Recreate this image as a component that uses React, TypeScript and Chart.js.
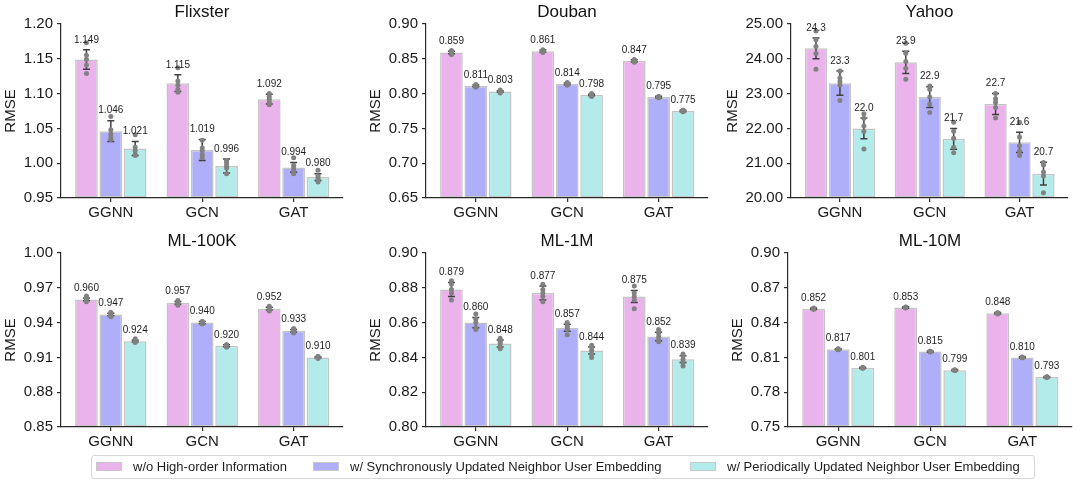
import React, { useEffect, useRef } from "react";
import { Chart, registerables } from "chart.js";
Chart.register(...registerables);

const FONT = "'Liberation Sans', Arial, Helvetica, sans-serif";

const models = ["GGNN", "GCN", "GAT"];
const seriesNames = [
  "w/o High-order Information",
  "w/ Synchronously Updated Neighbor User Embedding",
  "w/ Periodically Updated Neighbor User Embedding",
];
const seriesColors = ["#ebb3eb", "#aeaff8", "#b3ebea"];

// ---- Flixster ----
const flixsterMeans = [
  [1.149, 1.115, 1.092],
  [1.046, 1.019, 0.994],
  [1.021, 0.996, 0.98],
];
const flixsterErr = [
  [0.014, 0.012, 0.007],
  [0.015, 0.015, 0.007],
  [0.01, 0.01, 0.005],
];
const flixsterRuns = [
  [[1.173, 1.155, 1.149, 1.141, 1.129], [1.137, 1.118, 1.112, 1.106, 1.102], [1.1, 1.096, 1.092, 1.088, 1.084]],
  [[1.067, 1.048, 1.042, 1.037, 1.034], [1.033, 1.022, 1.018, 1.012, 1.008], [1.008, 0.997, 0.993, 0.989, 0.985]],
  [[1.041, 1.023, 1.018, 1.013, 1.011], [1.004, 1.001, 0.997, 0.993, 0.985], [0.99, 0.982, 0.979, 0.976, 0.973]],
];
const flixsterTicks = [0.95, 1.0, 1.05, 1.1, 1.15, 1.2];

// ---- Douban ----
const doubanMeans = [
  [0.859, 0.861, 0.847],
  [0.811, 0.814, 0.795],
  [0.803, 0.798, 0.775],
];
const doubanErr = [
  [0.0018, 0.0015, 0.0015],
  [0.0012, 0.0012, 0.0012],
  [0.0012, 0.0012, 0.0012],
];
const doubanRuns = [
  [[0.862, 0.861, 0.859, 0.857, 0.856], [0.863, 0.862, 0.861, 0.86, 0.859], [0.849, 0.848, 0.847, 0.846, 0.845]],
  [[0.813, 0.812, 0.811, 0.81, 0.809], [0.816, 0.815, 0.814, 0.813, 0.812], [0.796, 0.796, 0.795, 0.794, 0.794]],
  [[0.805, 0.804, 0.803, 0.802, 0.801], [0.8, 0.799, 0.798, 0.797, 0.796], [0.776, 0.776, 0.775, 0.774, 0.774]],
];
const doubanTicks = [0.65, 0.7, 0.75, 0.8, 0.85, 0.9];

// ---- Yahoo ----
const yahooMeans = [
  [24.3, 23.9, 22.7],
  [23.3, 22.9, 21.6],
  [22.0, 21.7, 20.7],
];
const yahooErr = [
  [0.3, 0.32, 0.3],
  [0.35, 0.3, 0.29],
  [0.3, 0.3, 0.33],
];
const yahooRuns = [
  [[24.8, 24.55, 24.35, 24.15, 23.7], [24.45, 24.16, 23.92, 23.73, 23.41], [23.0, 22.85, 22.75, 22.6, 22.3]],
  [[23.65, 23.45, 23.35, 23.25, 22.8], [23.22, 23.12, 22.9, 22.7, 22.46], [22.18, 21.75, 21.5, 21.35, 21.22]],
  [[22.42, 22.29, 22.07, 21.91, 21.41], [22.18, 21.92, 21.72, 21.46, 21.3], [21.02, 20.95, 20.75, 20.63, 20.15]],
];
const yahooTicks = [20, 21, 22, 23, 24, 25];

// ---- ML-100K ----
const ml100kMeans = [
  [0.96, 0.957, 0.952],
  [0.947, 0.94, 0.933],
  [0.924, 0.92, 0.91],
];
const ml100kErr = [
  [0.0012, 0.0012, 0.0012],
  [0.001, 0.001, 0.001],
  [0.0008, 0.0008, 0.0006],
];
const ml100kRuns = [
  [[0.963, 0.961, 0.96, 0.959, 0.958], [0.959, 0.958, 0.957, 0.956, 0.955], [0.954, 0.953, 0.952, 0.951, 0.95]],
  [[0.949, 0.948, 0.947, 0.946, 0.945], [0.941, 0.941, 0.94, 0.939, 0.939], [0.935, 0.934, 0.933, 0.932, 0.931]],
  [[0.926, 0.925, 0.924, 0.923, 0.923], [0.921, 0.921, 0.92, 0.919, 0.919], [0.911, 0.91, 0.91, 0.91, 0.909]],
];
const ml100kTicks = [0.85, 0.88, 0.91, 0.94, 0.97, 1.0];

// ---- ML-1M ----
const ml1mMeans = [
  [0.879, 0.877, 0.875],
  [0.86, 0.857, 0.852],
  [0.848, 0.844, 0.839],
];
const ml1mErr = [
  [0.004, 0.004, 0.0035],
  [0.003, 0.002, 0.0025],
  [0.002, 0.002, 0.002],
];
const ml1mRuns = [
  [[0.884, 0.882, 0.879, 0.877, 0.873], [0.882, 0.879, 0.877, 0.875, 0.872], [0.881, 0.877, 0.875, 0.873, 0.868]],
  [[0.865, 0.862, 0.86, 0.857, 0.856], [0.86, 0.858, 0.857, 0.856, 0.853], [0.856, 0.854, 0.852, 0.85, 0.849]],
  [[0.851, 0.849, 0.848, 0.846, 0.845], [0.847, 0.846, 0.844, 0.842, 0.84], [0.842, 0.841, 0.839, 0.837, 0.835]],
];
const ml1mTicks = [0.8, 0.82, 0.84, 0.86, 0.88, 0.9];

// ---- ML-10M ----
const ml10mMeans = [
  [0.852, 0.853, 0.848],
  [0.817, 0.815, 0.81],
  [0.801, 0.799, 0.793],
];
const ml10mErr = [
  [0.0006, 0.0006, 0.0006],
  [0.0005, 0.0005, 0.0005],
  [0.0005, 0.0005, 0.0005],
];
const ml10mRuns = [
  [[0.8525, 0.8522, 0.852, 0.8518, 0.8515], [0.8535, 0.8532, 0.853, 0.8528, 0.8525], [0.8485, 0.8482, 0.848, 0.8478, 0.8475]],
  [[0.8174, 0.8172, 0.817, 0.8168, 0.8166], [0.8154, 0.8152, 0.815, 0.8148, 0.8146], [0.8104, 0.8102, 0.81, 0.8098, 0.8096]],
  [[0.8014, 0.8012, 0.801, 0.8008, 0.8006], [0.7994, 0.7992, 0.799, 0.7988, 0.7986], [0.7934, 0.7932, 0.793, 0.7928, 0.7926]],
];
const ml10mTicks = [0.75, 0.78, 0.81, 0.84, 0.87, 0.9];

type PanelCfg = {
  title: string;
  means: number[][];
  errs: number[][];
  runs: number[][][];
  ticks: number[];
  decimals: number;
  col: number;
  row: number;
  left: number;
  right: number;
};

const panels: PanelCfg[] = [
  { title: "Flixster", means: flixsterMeans, errs: flixsterErr, runs: flixsterRuns, ticks: flixsterTicks, decimals: 3, col: 0, row: 0, left: 61, right: 343 },
  { title: "Douban", means: doubanMeans, errs: doubanErr, runs: doubanRuns, ticks: doubanTicks, decimals: 3, col: 1, row: 0, left: 426, right: 708 },
  { title: "Yahoo", means: yahooMeans, errs: yahooErr, runs: yahooRuns, ticks: yahooTicks, decimals: 1, col: 2, row: 0, left: 791, right: 1068 },
  { title: "ML-100K", means: ml100kMeans, errs: ml100kErr, runs: ml100kRuns, ticks: ml100kTicks, decimals: 3, col: 0, row: 1, left: 61, right: 343 },
  { title: "ML-1M", means: ml1mMeans, errs: ml1mErr, runs: ml1mRuns, ticks: ml1mTicks, decimals: 3, col: 1, row: 1, left: 426, right: 708 },
  { title: "ML-10M", means: ml10mMeans, errs: ml10mErr, runs: ml10mRuns, ticks: ml10mTicks, decimals: 3, col: 2, row: 1, left: 788, right: 1072 },
];

const W = 360;
const H = 235;
const ROW_TOP = [0, 229];
const YW = 50;
const XH = 30;
const AXIS = "#2b2b2b";

function Panel({ cfg }: { cfg: PanelCfg }) {
  const ref = useRef<HTMLCanvasElement>(null);
  useEffect(() => {
    if (!ref.current) return;
    const colX = cfg.col * W;
    const pl = cfg.left - colX - YW;
    const pr = colX + W - cfg.right;
    const tickFmt = (v: number) => Number(v).toFixed(2);

    const overlay = {
      id: "overlay",
      afterDatasetsDraw(chart: any) {
        const ctx = chart.ctx as CanvasRenderingContext2D;
        const ys = chart.scales.y;
        chart.data.datasets.forEach((_ds: any, si: number) => {
          const meta = chart.getDatasetMeta(si);
          meta.data.forEach((bar: any, ci: number) => {
            const m = cfg.means[si][ci];
            const e = cfg.errs[si][ci];
            const x = bar.x;
            const yt = ys.getPixelForValue(m + e);
            const yb = ys.getPixelForValue(m - e);
            ctx.save();
            ctx.strokeStyle = "#3f3f3f";
            ctx.lineWidth = 1.5;
            ctx.beginPath();
            ctx.moveTo(x, yt);
            ctx.lineTo(x, yb);
            ctx.moveTo(x - 3.5, yt);
            ctx.lineTo(x + 3.5, yt);
            ctx.moveTo(x - 3.5, yb);
            ctx.lineTo(x + 3.5, yb);
            ctx.stroke();
            ctx.fillStyle = "#818181";
            cfg.runs[si][ci].forEach((r) => {
              ctx.beginPath();
              ctx.arc(x, ys.getPixelForValue(r), 2.5, 0, Math.PI * 2);
              ctx.fill();
            });
            ctx.fillStyle = "#1e1e1e";
            ctx.font = `10px ${FONT}`;
            ctx.textAlign = "center";
            ctx.textBaseline = "middle";
            ctx.fillText(m.toFixed(cfg.decimals), x, yt - 10);
            ctx.restore();
          });
        });
      },
      afterDraw(chart: any) {
        const ctx = chart.ctx as CanvasRenderingContext2D;
        const a = chart.chartArea;
        ctx.save();
        ctx.fillStyle = "#111";
        ctx.font = `17px ${FONT}`;
        ctx.textAlign = "center";
        ctx.textBaseline = "middle";
        ctx.fillText(cfg.title, (a.left + a.right) / 2, a.top - 12);
        ctx.font = `15px ${FONT}`;
        let maxW = 0;
        cfg.ticks.forEach((t) => {
          maxW = Math.max(maxW, ctx.measureText(tickFmt(t)).width);
        });
        const lx = a.left - 8 - maxW - 13;
        ctx.translate(lx, (a.top + a.bottom) / 2);
        ctx.rotate(-Math.PI / 2);
        ctx.fillStyle = "#1a1a1a";
        ctx.fillText("RMSE", 0, 0);
        ctx.restore();
      },
    };

    const chart = new Chart(ref.current, {
      type: "bar",
      data: {
        datasets: seriesNames.map((name, si) => ({
          label: name,
          data: models.map((_, ci) => ({ x: ci, y: cfg.means[si][ci] })),
          backgroundColor: seriesColors[si],
          borderColor: "#c4c4c4",
          borderWidth: 1.5,
          borderSkipped: false,
          base: cfg.ticks[0],
          categoryPercentage: 0.8,
          barPercentage: 0.93,
        })),
      } as any,
      options: {
        animation: false,
        responsive: false,
        maintainAspectRatio: false,
        layout: { padding: { left: pl, right: pr, top: 24, bottom: 7 } },
        plugins: {
          legend: { display: false },
          tooltip: { enabled: false },
          title: { display: false },
        },
        scales: {
          x: {
            type: "linear",
            min: -0.545,
            max: 2.54,
            offset: false,
            grid: {
              display: true,
              drawOnChartArea: false,
              drawTicks: true,
              tickLength: 4,
              color: AXIS,
              lineWidth: 1.2,
              offset: false,
            },
            border: { display: true, color: AXIS, width: 1.2, z: 1 },
            ticks: {
              font: { size: 15, family: FONT },
              color: "#1a1a1a",
              padding: 2,
              autoSkip: false,
              maxRotation: 0,
              callback: (v: any) => models[Number(v)] ?? "",
            },
            afterBuildTicks: (s: any) => {
              s.ticks = models.map((_, i) => ({ value: i }));
            },
            afterFit: (s: any) => {
              s.height = XH;
            },
          },
          y: {
            type: "linear",
            min: cfg.ticks[0],
            max: cfg.ticks[cfg.ticks.length - 1],
            beginAtZero: false,
            grid: {
              display: true,
              drawOnChartArea: false,
              drawTicks: true,
              tickLength: 4,
              color: AXIS,
              lineWidth: 1.2,
            },
            border: { display: true, color: AXIS, width: 1.2, z: 1 },
            ticks: {
              font: { size: 15, family: FONT },
              color: "#1a1a1a",
              padding: 4,
              autoSkip: false,
              callback: (v: any) => tickFmt(v),
            },
            afterBuildTicks: (s: any) => {
              s.ticks = cfg.ticks.map((v) => ({ value: v }));
            },
            afterFit: (s: any) => {
              s.width = YW;
            },
          },
        },
      } as any,
      plugins: [overlay],
    });
    return () => chart.destroy();
  }, [cfg]);
  return (
    <canvas
      ref={ref}
      width={W}
      height={H}
      style={{ position: "absolute", left: cfg.col * W, top: ROW_TOP[cfg.row], width: W, height: H }}
    />
  );
}

const LEGEND_SWATCH_X = [96, 313, 690];
const LEGEND_TEXT_X = [133, 350, 727];

export default function App() {
  useEffect(() => {
    document.body.style.margin = "0";
  }, []);
  return (
    <div style={{ position: "fixed", left: 0, top: 0, width: 1080, height: 485, background: "#fff", overflow: "hidden" }}>
      {panels.map((p) => (
        <Panel key={p.title} cfg={p} />
      ))}
      <div
        style={{
          position: "absolute",
          left: 91,
          top: 455,
          width: 944,
          height: 24,
          border: "1px solid #d6d6d6",
          borderRadius: 3,
          boxSizing: "border-box",
          fontFamily: FONT,
          fontSize: 13,
          color: "#1e1e1e",
        }}
      >
        {seriesNames.map((name, i) => (
          <React.Fragment key={name}>
            <div
              style={{
                position: "absolute",
                left: LEGEND_SWATCH_X[i] - 92,
                top: 6,
                width: 26,
                height: 9,
                boxSizing: "border-box",
                background: seriesColors[i],
                border: "1px solid #c8c8c8",
              }}
            />
            <div
              style={{
                position: "absolute",
                left: LEGEND_TEXT_X[i] - 92,
                top: 0,
                height: 22,
                lineHeight: "22px",
                whiteSpace: "nowrap",
              }}
            >
              {name}
            </div>
          </React.Fragment>
        ))}
      </div>
    </div>
  );
}
